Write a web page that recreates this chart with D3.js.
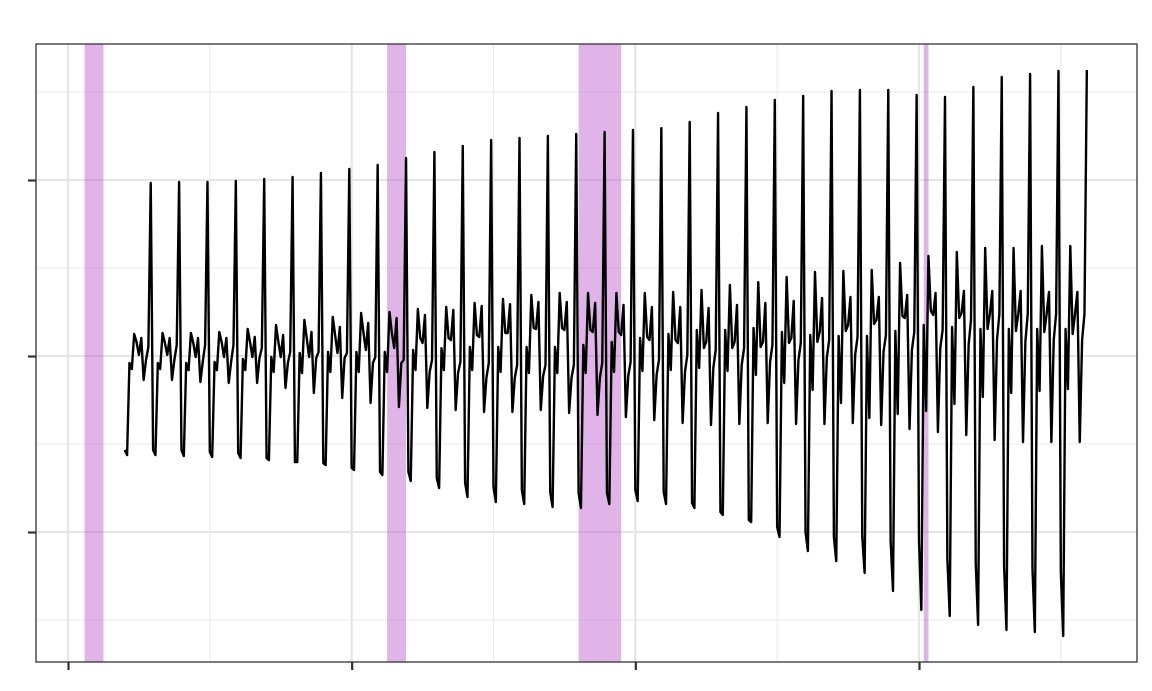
<!DOCTYPE html>
<html>
<head>
<meta charset="utf-8">
<script src="https://cdn.jsdelivr.net/npm/d3@7"></script>
<style>
  html, body { margin: 0; padding: 0; background: #ffffff; }
  svg { display: block; font-family: "Liberation Sans", Arial, sans-serif; }
</style>
</head>
<body>
<svg id="chart" width="1152" height="691"></svg>
<script>
// ---- data (seasonal effect, by calendar month, one value per year 1992..2025) ----
const years = [1992,1993,1994,1995,1996,1997,1998,1999,2000,2001,2002,2003,2004,2005,2006,2007,2008,
               2009,2010,2011,2012,2013,2014,2015,2016,2017,2018,2019,2020,2021,2022,2023,2024,2025];

const janValues = [-5.34,-5.34,-5.34,-5.45,-5.51,-5.80,-6.02,-6.08,-6.36,-6.59,-6.59,-6.93,-7.22,-7.44,-7.61,-7.73,-7.78,
                   -7.78,-7.61,-7.73,-8.35,-8.86,-9.32,-9.72,-10.00,-10.28,-10.28,-10.51,-10.51,-11.53,-11.76,-11.93,-12.05,-12.27];
const febValues = [-5.63,-5.63,-5.68,-5.74,-5.80,-5.91,-6.02,-6.19,-6.48,-6.76,-7.10,-7.50,-8.01,-8.30,-8.41,-8.58,-8.64,
                   -8.41,-8.24,-8.41,-8.64,-9.03,-9.43,-10.28,-11.08,-11.65,-12.33,-13.35,-14.43,-14.77,-15.28,-15.57,-15.68,-15.91];
const marValues = [-0.40,-0.40,-0.40,-0.34,-0.17,-0.06,0.17,0.23,0.23,0.23,0.34,0.45,0.51,0.51,0.51,0.51,0.63,
                   0.80,1.02,1.25,1.48,1.48,1.59,1.36,1.19,1.14,1.14,1.42,1.76,1.65,1.53,1.53,1.53,1.53];
const aprValues = [-0.74,-0.74,-0.80,-0.80,-0.80,-0.91,-0.97,-0.91,-0.91,-0.91,-0.80,-0.80,-0.80,-0.91,-0.97,-0.97,-0.97,
                   -0.91,-0.85,-0.80,-0.68,-0.85,-1.08,-1.53,-1.93,-2.67,-3.52,-3.30,-3.13,-2.73,-2.33,-2.10,-1.99,-1.88];
const mayValues = [1.25,1.31,1.31,1.36,1.53,1.76,2.05,2.22,2.44,2.50,2.67,2.78,3.01,3.24,3.47,3.58,3.58,
                   3.58,3.58,3.64,3.75,4.03,4.20,4.49,4.77,4.83,4.89,5.28,5.68,5.91,6.14,6.14,6.25,6.25];
const junValues = [0.80,0.74,0.74,0.80,0.80,0.80,1.02,1.19,1.31,1.31,1.02,1.02,1.19,1.31,1.59,1.59,1.48,
                   1.36,1.08,0.91,0.45,0.45,0.51,0.74,0.80,1.42,1.82,2.27,2.56,2.16,1.53,1.42,1.36,1.25];
const julValues = [0.06,0.06,-0.06,-0.06,-0.06,-0.06,-0.06,0.17,0.34,0.45,0.74,0.91,1.08,1.31,1.53,1.48,1.36,
                   1.19,0.91,0.74,0.80,0.80,0.80,1.02,1.36,1.76,2.05,2.16,2.33,2.44,2.39,2.39,2.39,2.39];
const augValues = [1.02,1.02,1.02,1.02,1.08,1.19,1.36,1.65,1.88,2.16,2.33,2.61,2.84,2.95,3.07,3.07,3.01,
                   2.90,2.78,2.78,2.73,2.90,3.01,3.13,3.30,3.35,3.35,3.47,3.58,3.69,3.69,3.69,3.64,3.64];
const sepValues = [-1.36,-1.36,-1.48,-1.53,-1.53,-1.82,-2.10,-2.39,-2.67,-2.90,-2.95,-3.07,-3.18,-3.18,-3.07,-3.24,-3.35,
                   -3.47,-3.64,-3.81,-3.92,-3.86,-3.81,-3.86,-3.86,-3.81,-3.92,-4.15,-4.32,-4.49,-4.77,-4.89,-4.89,-4.89];
const octValues = [-0.23,-0.23,-0.34,-0.34,-0.11,-0.40,-0.11,-0.11,-0.40,-0.40,-0.91,-0.97,-1.25,-1.25,-1.14,-1.25,-1.25,
                   -1.14,-1.08,-0.91,-0.68,-0.51,-0.34,-0.23,-0.11,0.06,0.23,0.34,0.45,0.63,0.91,0.80,0.91,0.91];
const novValues = [0.51,0.63,0.63,0.63,0.45,0.23,0.23,0.17,-0.06,-0.23,-0.23,-0.34,-0.40,-0.51,-0.51,-0.51,-0.40,
                   -0.34,-0.23,0.06,0.34,0.45,0.63,0.74,0.91,1.08,1.19,1.36,1.48,2.05,2.39,2.39,2.39,2.39];
const decValues = [9.83,9.89,9.89,9.94,10.06,10.17,10.40,10.63,10.85,11.25,11.59,11.93,12.27,12.39,12.50,12.61,12.73,
                   12.84,12.95,13.30,13.81,14.15,14.55,14.77,15.06,15.11,15.11,14.83,14.72,15.28,15.85,16.02,16.19,16.25];

// recession periods (start, end) as "YYYY-MM"
const recessionStarts = ["1990-08", "2001-04", "2008-01", "2020-03"];
const recessionEnds   = ["1991-04", "2001-12", "2009-07", "2020-05"];

const xMajorTicks = [1990, 2000, 2010, 2020];
const xMinorTicks = [1995, 2005, 2015, 2025];
const yMajorTicks = [-10, 0, 10];
const yMinorTicks = [-15, -5, 5, 15];

// ---- build series ----
const monthly = [janValues, febValues, marValues, aprValues, mayValues, junValues,
                 julValues, augValues, sepValues, octValues, novValues, decValues];
const series = [];
years.forEach((yr, i) => {
  monthly.forEach((arr, m) => series.push({ t: yr + m / 12, v: arr[i] }));
});
const toYear = s => { const [y, m] = s.split("-").map(Number); return y + (m - 1) / 12; };
const recessions = recessionStarts.map((s, i) => ({ x0: toYear(s), x1: toYear(recessionEnds[i]) }));

// ---- layout ----
const svg = d3.select("#chart");
const panel = { left: 36, right: 1137, top: 44, bottom: 662 };

const x = d3.scaleLinear().domain([1988.872, 2027.685]).range([panel.left, panel.right]);
const y = d3.scaleLinear().domain([-17.386, 17.727]).range([panel.bottom, panel.top]);

svg.append("rect").attr("width", 1152).attr("height", 691).attr("fill", "#ffffff");

const clip = svg.append("defs").append("clipPath").attr("id", "panelClip")
  .append("rect").attr("x", panel.left).attr("y", panel.top)
  .attr("width", panel.right - panel.left).attr("height", panel.bottom - panel.top);

const g = svg.append("g").attr("clip-path", "url(#panelClip)");

// minor grid
g.selectAll("line.xminor").data(xMinorTicks).join("line")
  .attr("x1", d => x(d)).attr("x2", d => x(d)).attr("y1", panel.top).attr("y2", panel.bottom)
  .attr("stroke", "#ebebeb").attr("stroke-width", 1.1);
g.selectAll("line.yminor").data(yMinorTicks).join("line")
  .attr("y1", d => y(d)).attr("y2", d => y(d)).attr("x1", panel.left).attr("x2", panel.right)
  .attr("stroke", "#ebebeb").attr("stroke-width", 1.1);
// major grid
g.selectAll("line.xmajor").data(xMajorTicks).join("line")
  .attr("x1", d => x(d)).attr("x2", d => x(d)).attr("y1", panel.top).attr("y2", panel.bottom)
  .attr("stroke", "#e6e6e6").attr("stroke-width", 2.2);
g.selectAll("line.ymajor").data(yMajorTicks).join("line")
  .attr("y1", d => y(d)).attr("y2", d => y(d)).attr("x1", panel.left).attr("x2", panel.right)
  .attr("stroke", "#e6e6e6").attr("stroke-width", 2.2);

// recession shading
g.selectAll("rect.rec").data(recessions).join("rect")
  .attr("x", d => x(d.x0)).attr("width", d => x(d.x1) - x(d.x0))
  .attr("y", panel.top).attr("height", panel.bottom - panel.top)
  .attr("fill", "rgb(178,68,198)").attr("fill-opacity", 0.4);

// line
const line = d3.line().x(d => x(d.t)).y(d => y(d.v));
g.append("path").datum(series)
  .attr("d", line).attr("fill", "none")
  .attr("stroke", "#000000").attr("stroke-width", 2.4)
  .attr("stroke-linejoin", "round").attr("stroke-linecap", "butt");

// panel border
svg.append("rect").attr("x", panel.left).attr("y", panel.top)
  .attr("width", panel.right - panel.left).attr("height", panel.bottom - panel.top)
  .attr("fill", "none").attr("stroke", "#333333").attr("stroke-width", 1.3);

// axes (ticks only, no labels)
const xAxis = d3.axisBottom(x).tickValues(xMajorTicks).tickFormat("").tickSize(8).tickSizeOuter(0);
const yAxis = d3.axisLeft(y).tickValues(yMajorTicks).tickFormat("").tickSize(8).tickSizeOuter(0);
const gx = svg.append("g").attr("transform", `translate(0,${panel.bottom})`).call(xAxis);
const gy = svg.append("g").attr("transform", `translate(${panel.left},0)`).call(yAxis);
[gx, gy].forEach(a => {
  a.select(".domain").remove();
  a.selectAll(".tick line").attr("stroke", "#333333").attr("stroke-width", 2.2);
});
</script>
</body>
</html>
